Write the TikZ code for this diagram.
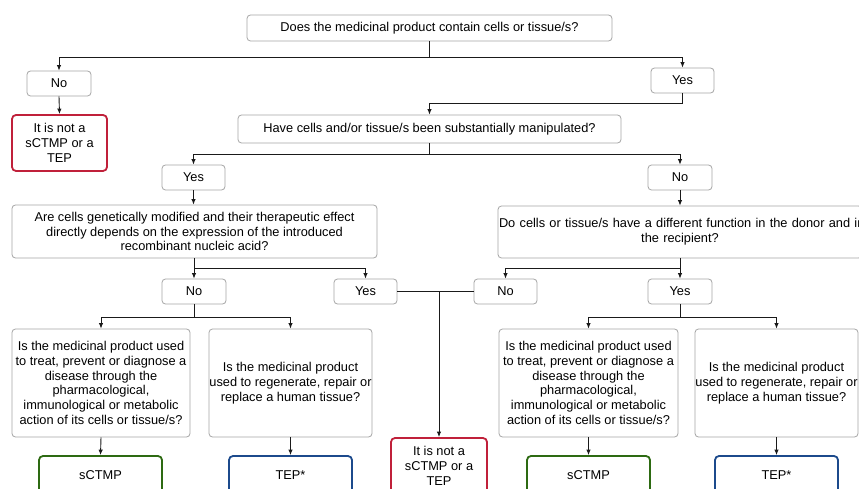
\documentclass[tikz,border=0pt]{standalone}
\usepackage{fontspec}
\setmainfont{Liberation Sans}
\usetikzlibrary{arrows.meta}
\definecolor{gbord}{HTML}{A6A6A6}
\definecolor{redb}{HTML}{C0203A}
\definecolor{greenb}{HTML}{2D6A12}
\definecolor{blueb}{HTML}{1C4A8C}
\definecolor{linec}{HTML}{1A1A1A}
\begin{document}
\begin{tikzpicture}[x=1pt,y=-1pt,
  box/.style={draw=gbord, line width=0.8pt, rounded corners=3.5pt, fill=white, inner sep=0pt, align=center,
    font=\fontsize{12.8}{14.7}\selectfont},
  redbox/.style={box, draw=redb, line width=1.8pt, rounded corners=4pt},
  greenbox/.style={box, draw=greenb, line width=1.8pt, rounded corners=4pt},
  bluebox/.style={box, draw=blueb, line width=1.8pt, rounded corners=4pt},
  conn/.style={draw=linec, line width=0.9pt},
  arr/.style={conn, -{Latex[length=5.5pt,width=4.5pt]}}]
\useasboundingbox (0,0) rectangle (859,489);
\clip (0,0) rectangle (859,489);
\fill[white] (0,0) rectangle (859,489);

% level 1
\node[box, minimum width=365pt, minimum height=26pt] (q1) at (429.5,28) {Does the medicinal product contain cells or tissue/s?};
\node[box, minimum width=64pt, minimum height=25pt] (no1) at (59,83.5) {No};
\node[box, minimum width=63pt, minimum height=25pt] (yes1) at (682.5,80.5) {Yes};
\node[redbox, minimum width=95pt, minimum height=56pt] (red1) at (59.5,143) {It is not a\\sCTMP or a\\TEP};

% level 2
\node[box, minimum width=383pt, minimum height=28pt] (q2) at (429.5,129) {Have cells and/or tissue/s been substantially manipulated?};
\node[box, minimum width=63pt, minimum height=25pt] (yes2) at (193.5,177.5) {Yes};
\node[box, minimum width=64pt, minimum height=25pt] (no2) at (680,177.5) {No};

% level 3
\node[box, minimum width=365pt, minimum height=53pt] (q3) at (194.5,231.5) {Are cells genetically modified and their therapeutic effect\\directly depends on the expression of the introduced\\recombinant nucleic acid?};
\node[box, minimum width=364pt, minimum height=52pt, text width=362pt] (q4) at (680,232) {\mbox{Do cells or tissue/s have a different function in the donor and in}\\the recipient?};

\node[box, minimum width=64pt, minimum height=25pt] (no3) at (194,291.5) {No};
\node[box, minimum width=63pt, minimum height=25pt] (yes3) at (365.5,291.5) {Yes};
\node[box, minimum width=63pt, minimum height=25pt] (no4) at (505.5,291.5) {No};
\node[box, minimum width=64pt, minimum height=25pt] (yes4) at (680,291.5) {Yes};

% level 4
\node[box, minimum width=178pt, minimum height=108pt] (q5) at (101,383) {Is the medicinal product used\\to treat, prevent or diagnose a\\disease through the\\pharmacological,\\immunological or metabolic\\action of its cells or tissue/s?};
\node[box, minimum width=163pt, minimum height=108pt] (q6) at (290.5,383) {Is the medicinal product\\used to regenerate, repair or\\replace a human tissue?};
\node[box, minimum width=179pt, minimum height=108pt] (q7) at (588.5,383) {Is the medicinal product used\\to treat, prevent or diagnose a\\disease through the\\pharmacological,\\immunological or metabolic\\action of its cells or tissue/s?};
\node[box, minimum width=163pt, minimum height=108pt] (q8) at (776.5,383) {Is the medicinal product\\used to regenerate, repair or\\replace a human tissue?};

% outcomes
\node[redbox, minimum width=96pt, minimum height=56pt] (red2) at (439,466) {It is not a\\sCTMP or a\\TEP};
\node[greenbox, minimum width=123pt, minimum height=38pt] (s1) at (100.5,475) {sCTMP};
\node[bluebox, minimum width=123pt, minimum height=38pt] (t1) at (290.5,475) {TEP*};
\node[greenbox, minimum width=123pt, minimum height=38pt] (s2) at (588.5,475) {sCTMP};
\node[bluebox, minimum width=123pt, minimum height=38pt] (t2) at (776.5,475) {TEP*};

% connectors
\coordinate (j1) at (429.5,57);
\draw[conn] (q1.south) -- (j1);
\draw[arr] (j1) -| (no1.north);
\draw[arr] (j1) -| (yes1.north);
\draw[arr] (no1.south) -- (red1.north);
\draw[arr] (yes1.south) -- ++(0,10) -| (q2.north);

\coordinate (j2) at (429.5,154);
\draw[conn] (q2.south) -- (j2);
\draw[arr] (j2) -| (yes2.north);
\draw[arr] (j2) -| (no2.north);
\draw[arr] (yes2.south) -- (q3.north -| yes2.south);
\draw[arr] (no2.south) -- (q4.north);

\coordinate (j3) at (194,268);
\draw[conn] (q3.south -| j3) -- (j3);
\draw[arr] (j3) -- (no3.north);
\draw[arr] (j3) -| (yes3.north);

\coordinate (j4) at (680,268);
\draw[conn] (q4.south) -- (j4);
\draw[arr] (j4) -- (yes4.north);
\draw[arr] (j4) -| (no4.north);

\coordinate (j5) at (439,291.5);
\draw[conn] (yes3.east) -- (no4.west);
\draw[arr] (j5) -- (red2.north);

\coordinate (j6) at (194,317);
\draw[conn] (no3.south) -- (j6);
\draw[arr] (j6) -| (q5.north);
\draw[arr] (j6) -| (q6.north);

\coordinate (j7) at (680,317);
\draw[conn] (yes4.south) -- (j7);
\draw[arr] (j7) -| (q7.north);
\draw[arr] (j7) -| (q8.north);

\draw[arr] (q5.south) -- (s1.north);
\draw[arr] (q6.south) -- (t1.north);
\draw[arr] (q7.south) -- (s2.north);
\draw[arr] (q8.south) -- (t2.north);
\end{tikzpicture}
\end{document}
